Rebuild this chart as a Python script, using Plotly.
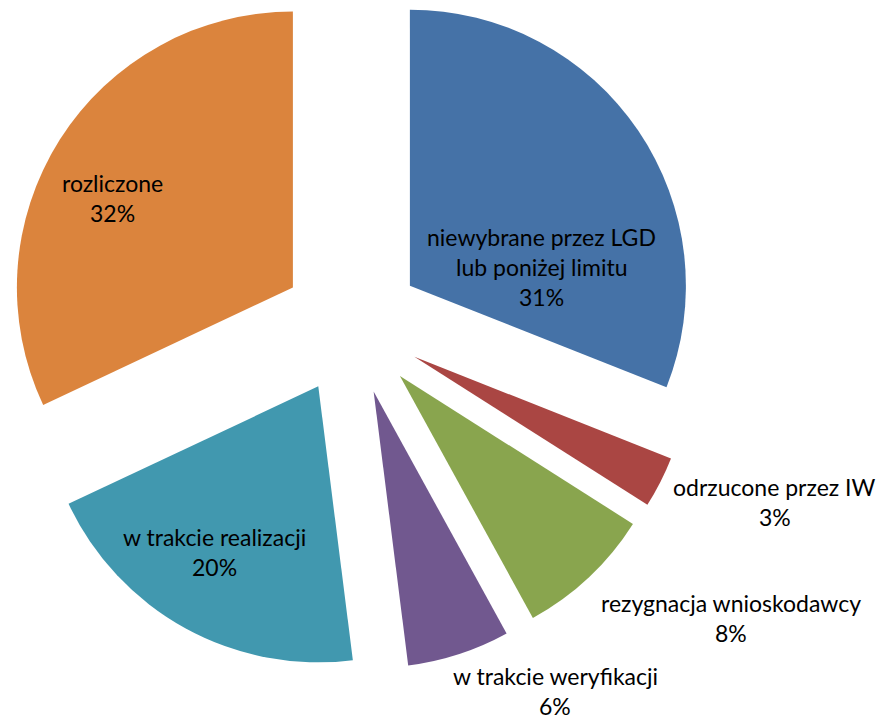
import math
import plotly.graph_objects as go

# ---- data ----
labels = [
    "niewybrane przez LGD<br>lub poniżej limitu",
    "odrzucone przez IW",
    "rezygnacja wnioskodawcy",
    "w trakcie weryfikacji",
    "w trakcie realizacji",
    "rozliczone",
]
values = [31, 3, 8, 6, 20, 32]

# ---- style ----
colors = ["#4572A7", "#AA4643", "#89A54E", "#71588F", "#4198AF", "#DB843D"]
PAGE_OFF = 8               # browser default body margin
W, H = 886 - PAGE_OFF, 721 - PAGE_OFF
CX, CY = 352 - PAGE_OFF, 325 - PAGE_OFF   # pie centre (px, figure coords)
R = 276                    # radius (px)
EXPLODE = 70               # explode distance (px)
# label placement: (distance as fraction of radius, angle offset from bisector in deg)
label_place = [(0.483, 26.0), (1.408, -5.1), (1.486, -10.6), (1.27, -13.2), (0.709, 3.4), (0.728, -6.0)]
FONT = "Lato"
FSIZE = 23
LINE = 30

total = sum(values)
fig = go.Figure()
annotations = []
cum = 0.0
for i, v in enumerate(values):
    a0 = cum / total * 360
    cum += v
    a1 = cum / total * 360
    mid = math.radians((a0 + a1) / 2)
    vx = CX + EXPLODE * math.sin(mid)
    vy = CY - EXPLODE * math.cos(mid)
    slice_colors = ["rgba(0,0,0,0)"] * len(values)
    slice_colors[i] = colors[i]
    fig.add_trace(go.Pie(
        values=values,
        labels=[l.replace("<br>", " ") for l in labels],
        sort=False,
        direction="clockwise",
        rotation=0,
        marker=dict(colors=slice_colors, line=dict(width=0)),
        textinfo="none",
        hoverinfo="skip",
        showlegend=False,
        domain=dict(x=[max(0, (vx - R) / W), min(1, (vx + R) / W)],
                    y=[max(0, 1 - (vy + R) / H), min(1, 1 - (vy - R) / H)]),
    ))
    fr, off = label_place[i]
    la = mid + math.radians(off)
    lx = vx + fr * R * math.sin(la)
    ly = vy - fr * R * math.cos(la)
    pct = f"{round(v / total * 100)}%"
    lines = labels[i].split("<br>") + [pct]
    n = len(lines)
    for k, t in enumerate(lines):
        annotations.append(dict(
            x=lx / W, y=1 - ly / H, xref="paper", yref="paper",
            text=t, showarrow=False, xanchor="center", yanchor="middle",
            yshift=-(k - (n - 1) / 2) * LINE, borderpad=0,
            font=dict(family=FONT, size=FSIZE, color="#000000"),
        ))

fig.update_layout(
    width=W, height=H,
    margin=dict(l=0, r=0, t=0, b=0),
    paper_bgcolor="white", plot_bgcolor="white",
    annotations=annotations,
)
fig.write_html("out.html")
